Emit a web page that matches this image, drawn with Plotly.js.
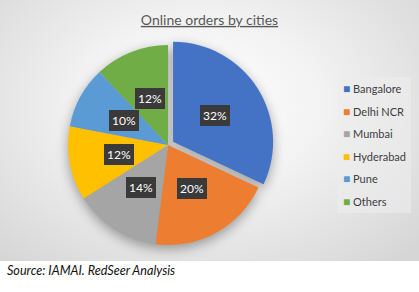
<!DOCTYPE html>
<html><head><meta charset="utf-8">
<script src="https://cdn.plot.ly/plotly-3.0.1.min.js"></script>
<style>
html,body{margin:0;padding:0;background:#fff;overflow:hidden;}
#wrap{position:relative;width:419px;height:292px;}
#bg{position:absolute;left:0;top:0;width:419px;height:261px;background:radial-gradient(ellipse 70% 80% at 48% 40%, #ffffff 0%, #f3f3f3 40%, #d6d6d6 100%);}
#chart{position:absolute;left:0;top:0;width:419px;height:292px;}
#chart .pielayer{filter:drop-shadow(0px 4px 6px rgba(0,0,0,0.35));}
</style></head>
<body><div id="wrap"><div id="bg"></div><div id="chart"></div></div>
<script>
const cities = ['Bangalore','Delhi NCR','Mumbai','Hyderabad','Pune','Others'];
const shares = [32,20,14,12,10,12];
const colors = ['#4472C4','#ED7D31','#A5A5A5','#FFC000','#5B9BD5','#70AD47'];
const pulls = [0.06,0,0,0,0,0];
const titleText = 'Online orders by cities';
const sourceText = 'Source: IAMAI. RedSeer Analysis';

const W = 419, H = 292;
const domX = [0.148, 0.654], domY = [0.1404, 0.8664];
const cx = (domX[0]+domX[1])/2*W;
const cy = (domY[0]+domY[1])/2*H;
const side = Math.min((domX[1]-domX[0])*W, (domY[1]-domY[0])*H);
const maxPull = Math.max(...pulls);
const R = side/2/(1+maxPull);
const total = shares.reduce((a,b)=>a+b,0);

const annotations = [];
let cum = 0;
shares.forEach((v,i)=>{
  const mid = (cum + v/2)/total*2*Math.PI;
  cum += v;
  const d = R*0.5 + pulls[i]*R;
  annotations.push({
    xref:'paper', yref:'paper',
    x:(cx + d*Math.sin(mid))/W, y:(cy + d*Math.cos(mid))/H,
    xanchor:'center', yanchor:'middle', showarrow:false,
    text: Math.round(v/total*100) + '%',
    font:{family:'Lato, sans-serif', size:12, color:'#ffffff'},
    bgcolor:'#3a3a3a', borderpad:3, borderwidth:0
  });
});

// legend entries
cities.forEach((c,i)=>{
  annotations.push({
    xref:'paper', yref:'paper',
    x:341/W, y:1-(88.5+i*22.5)/H,
    xanchor:'left', yanchor:'middle', showarrow:false,
    text:'<span style="color:'+colors[i]+';font-size:12px">■</span> '+c,
    font:{family:'Lato, sans-serif', size:11, color:'#404040'}
  });
});

annotations.push({
  xref:'paper', yref:'paper', x:5/W, y:1-270/H,
  xanchor:'left', yanchor:'middle', showarrow:false,
  text:'<i>'+sourceText+'</i>',
  font:{family:'Lato, sans-serif', size:12.6, color:'#111111'}
});

const data = [{
  type:'pie', labels:cities, values:shares, sort:false, direction:'clockwise', rotation:0,
  pull:pulls, marker:{colors:colors, line:{width:0}}, textinfo:'none', hoverinfo:'none',
  showlegend:false, domain:{x:domX, y:domY}
}];

const layout = {
  width:W, height:H, margin:{l:0,r:0,t:0,b:0},
  paper_bgcolor:'rgba(0,0,0,0)', plot_bgcolor:'rgba(0,0,0,0)',
  showlegend:false,
  title:{text:'<u>'+titleText+'</u>', font:{family:'Lato, sans-serif', size:14, color:'#595959'},
    x:0.5, xanchor:'center', xref:'paper', y:1-20/H, yref:'container', yanchor:'middle'},
  annotations:annotations,
  shapes:[{type:'rect', xref:'paper', yref:'paper', x0:337/W, x1:411/W, y0:1-213/H, y1:1-77/H,
    fillcolor:'rgba(236,236,236,0.6)', line:{width:0}, layer:'below'}]
};
Plotly.newPlot('chart', data, layout, {staticPlot:true});
</script></body></html>
